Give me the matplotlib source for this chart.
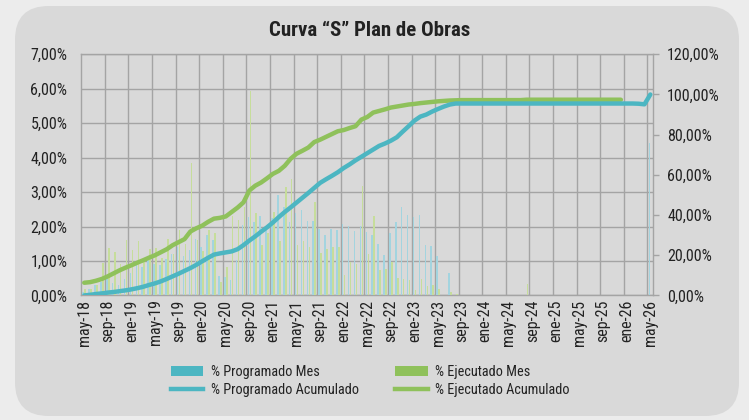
import numpy as np
import matplotlib
matplotlib.use("Agg")
import matplotlib.pyplot as plt
from matplotlib import font_manager as fm
from matplotlib.patches import FancyBboxPatch, Patch
from matplotlib.lines import Line2D
from matplotlib.ticker import FuncFormatter, MultipleLocator

# ---- pick a condensed face if one is installed ----
def pick_condensed():
    pref = ['Liberation Sans Narrow', 'Roboto Condensed', 'Noto Sans', 'Open Sans',
            'DejaVu Sans', 'Lato', 'Inter', 'Roboto']
    cands = []
    for f in fm.fontManager.ttflist:
        low = f.fname.lower()
        if ('narrow' in low or 'condensed' in low) and 'semi' not in low and 'extra' not in low \
                and 'ultra' not in low and f.style == 'normal':
            cands.append(f)
    for p in pref:
        for f in cands:
            if f.name == p:
                return f.name, f.stretch
    if cands:
        return cands[0].name, cands[0].stretch
    return 'Roboto', 'normal'

FAM, STRETCH = pick_condensed()
plt.rcParams['font.family'] = [FAM, 'DejaVu Sans']
plt.rcParams['font.stretch'] = STRETCH

tick_labels = ['may-18', 'sep-18', 'ene-19', 'may-19', 'sep-19', 'ene-20', 'may-20',
               'sep-20', 'ene-21', 'may-21', 'sep-21', 'ene-22', 'may-22', 'sep-22',
               'ene-23', 'may-23', 'sep-23', 'ene-24', 'may-24', 'sep-24', 'ene-25',
               'may-25', 'sep-25', 'ene-26', 'may-26']

# % Programado Mes (left axis, %)
prog_mes = [0.10, 0.20, 0.30, 0.39, 0.50, 0.36, 0.31, 0.47, 0.65, 0.87,
            0.83, 1.02, 0.92, 0.87, 1.06, 1.20, 1.41, 1.14, 1.33, 1.65,
            1.41, 1.75, 1.62, 0.55, 0.52, 0.46, 1.02, 2.04, 2.28, 2.14,
            2.30, 1.99, 2.24, 2.92, 2.57, 2.14, 2.38, 2.48, 2.17, 2.17,
            1.94, 1.75, 1.94, 1.90, 2.07, 2.02, 1.87, 2.01, 1.84, 1.75,
            1.49, 1.17, 1.80, 2.14, 2.56, 2.33, 2.28, 2.33, 1.45, 1.43,
            1.14, 0.00, 0.64, 0.02, 0.02, 0.02, 0.02, 0.02, 0.02, 0.02,
            0.02, 0.02, 0.02, 0.02, 0.02, 0.02, 0.02, 0.02, 0.02, 0.02,
            0.02, 0.02, 0.02, 0.02, 0.02, 0.02, 0.02, 0.02, 0.02, 0.02,
            0.02, 0.02, 0.02, 0.02, 0.02, 0.00, 4.42]

# % Ejecutado Mes (left axis, %)
ejec_mes = [0.20, 0.20, 0.30, 0.94, 1.39, 1.26, 0.90, 1.60, 1.33, 1.58,
            1.00, 1.34, 1.39, 1.10, 1.63, 1.20, 1.90, 1.50, 3.84, 1.60,
            1.30, 1.91, 1.80, 0.39, 0.83, 2.30, 2.19, 2.57, 5.93, 2.38,
            1.46, 1.80, 2.43, 1.58, 3.16, 3.38, 1.46, 1.58, 1.41, 2.72,
            1.23, 1.36, 1.41, 1.41, 0.58, 0.97, 0.90, 3.18, 1.20, 2.31,
            0.73, 0.78, 0.97, 0.50, 0.48, 0.44, 0.15, 0.48, 0.26, 0.31,
            0.20, 0.00, 0.10, 0.05, 0.02, 0.02, 0.02, 0.02, 0.02, 0.02,
            0.02, 0.02, 0.02, 0.02, 0.02, 0.32, 0.02, 0.02, 0.02, 0.02,
            0.02, 0.02, 0.02, 0.02, 0.02, 0.02, 0.02, 0.02, 0.02, 0.02,
            0.02, 0.02, 0.02, np.nan, np.nan, np.nan, np.nan]

# % Programado Acumulado (right axis, %)
prog_acum = [0.0, 0.3, 0.7, 1.0, 1.4, 1.7, 2.1, 2.5, 3.0, 3.6,
             4.3, 5.2, 6.0, 7.0, 8.2, 9.5, 10.8, 12.2, 13.6, 15.2,
             17.0, 18.7, 20.3, 20.9, 21.4, 21.9, 23.0, 25.0, 27.3, 29.4,
             31.7, 33.9, 36.3, 39.0, 41.5, 43.8, 46.2, 48.6, 51.0, 53.5,
             56.0, 57.8, 59.5, 61.3, 63.4, 65.2, 67.2, 69.0, 70.8, 72.6,
             74.4, 75.6, 77.0, 78.7, 81.5, 84.2, 87.0, 89.0, 90.0, 91.5,
             92.8, 94.0, 95.0, 95.5, 95.5, 95.5, 95.5, 95.5, 95.5, 95.5,
             95.5, 95.5, 95.5, 95.5, 95.5, 95.5, 95.5, 95.5, 95.5, 95.5,
             95.5, 95.5, 95.5, 95.5, 95.5, 95.5, 95.5, 95.5, 95.5, 95.5,
             95.5, 95.5, 95.5, 95.5, 95.4, 95.1, 100.0]

# % Ejecutado Acumulado (right axis, %)
ejec_acum = [6.3, 6.6, 7.3, 8.2, 9.5, 11.0, 12.5, 13.8, 15.0, 16.3,
             17.5, 18.8, 20.0, 21.5, 23.0, 25.0, 26.5, 28.0, 31.8, 33.4,
             34.7, 36.6, 38.2, 38.6, 39.3, 41.5, 43.7, 46.3, 52.2, 54.6,
             56.2, 58.3, 60.5, 62.0, 64.5, 68.0, 70.5, 72.0, 73.6, 76.3,
             77.5, 78.9, 80.3, 81.7, 82.3, 83.3, 84.2, 87.5, 88.8, 91.0,
             91.8, 92.6, 93.5, 94.0, 94.5, 95.0, 95.3, 95.7, 96.0, 96.3,
             96.6, 96.8, 97.0, 97.1, 97.2, 97.2, 97.2, 97.2, 97.2, 97.2,
             97.2, 97.2, 97.2, 97.2, 97.2, 97.4, 97.4, 97.4, 97.4, 97.4,
             97.4, 97.4, 97.4, 97.4, 97.4, 97.4, 97.4, 97.4, 97.4, 97.4,
             97.4, 97.4, np.nan, np.nan, np.nan, np.nan, np.nan]

TEAL = '#4cb6c2'
GREEN = '#8fc15b'
TEAL_BAR = '#a3d4df'
GREEN_BAR = '#c6dd9b'
TXT = '#222222'
GRID = '#a4a4a4'

fig = plt.figure(figsize=(7.49, 4.20), dpi=100)
fig.patch.set_facecolor('#ececec')
panel = FancyBboxPatch((15 / 749, 4 / 420), 724 / 749, 410 / 420,
                       boxstyle='round,pad=0,rounding_size=0.045',
                       transform=fig.transFigure, facecolor='#d9d9d9',
                       edgecolor='none', zorder=-10, mutation_aspect=749 / 420)
fig.patches.append(panel)

ax = fig.add_axes([81.3 / 749, 1 - 295.4 / 420, (653.3 - 81.3) / 749, (295.4 - 54.3) / 420])
ax.set_facecolor('none')
n = len(prog_mes)
x = np.arange(n)

ax.bar(x - 0.17, prog_mes, width=0.26, color=TEAL_BAR, zorder=3)
ax.bar(x + 0.17, ejec_mes, width=0.26, color=GREEN_BAR, zorder=3)
ax.set_xlim(-0.5, n - 0.5)
ax.set_ylim(0, 7)
ax.yaxis.set_major_locator(MultipleLocator(1))
fmt = FuncFormatter(lambda v, p: f'{v:.2f}'.replace('.', ',') + '%')
ax.yaxis.set_major_formatter(fmt)

# vertical grid at category boundaries every 4 months
for b in np.arange(3.5, n - 0.5, 4):
    ax.axvline(b, color=GRID, lw=1.0, zorder=1)
ax.yaxis.grid(True, color=GRID, lw=1.0, zorder=1)
ax.set_axisbelow(True)

ax.set_xticks(np.arange(0, n, 4))
ax.set_xticklabels(tick_labels, rotation=90, fontsize=11.5, color=TXT)
ax.tick_params(axis='x', length=0, pad=3)
ax.tick_params(axis='y', length=0, pad=10, labelsize=11.5, labelcolor=TXT)
for s in ax.spines.values():
    s.set_color(GRID)
    s.set_linewidth(1.0)

ax2 = ax.twinx()
ax2.plot(x, prog_acum, color=TEAL, lw=3.2, solid_capstyle='round', zorder=5)
ax2.plot(x, ejec_acum, color=GREEN, lw=3.2, solid_capstyle='round', zorder=4)
ax2.set_ylim(0, 120)
ax2.yaxis.set_major_locator(MultipleLocator(20))
ax2.yaxis.set_major_formatter(fmt)
ax2.tick_params(axis='y', length=4, width=1, color=GRID, pad=6, labelsize=11.5, labelcolor=TXT)
for s in ax2.spines.values():
    s.set_visible(False)

fig.text(370 / 749, 1 - 30 / 420, 'Curva “S” Plan de Obras', ha='center', va='center',
         fontsize=15, fontweight='bold', color=TXT)

handles = [Patch(facecolor=TEAL, edgecolor='none'),
           Line2D([0], [0], color=TEAL, lw=3.2),
           Patch(facecolor=GREEN, edgecolor='none'),
           Line2D([0], [0], color=GREEN, lw=3.2)]
labels = ['% Programado Mes', '% Programado Acumulado', '% Ejecutado Mes', '% Ejecutado Acumulado']
fig.legend(handles, labels, loc='center', bbox_to_anchor=(370 / 749, 1 - 381.2 / 420),
           ncol=2, frameon=False, fontsize=10.3, handlelength=2.3, handleheight=0.7,
           handletextpad=0.52, columnspacing=2.5, labelspacing=0.25, labelcolor=TXT,
           borderpad=0.2)

fig.savefig('out.png', dpi=100, facecolor=fig.get_facecolor())
